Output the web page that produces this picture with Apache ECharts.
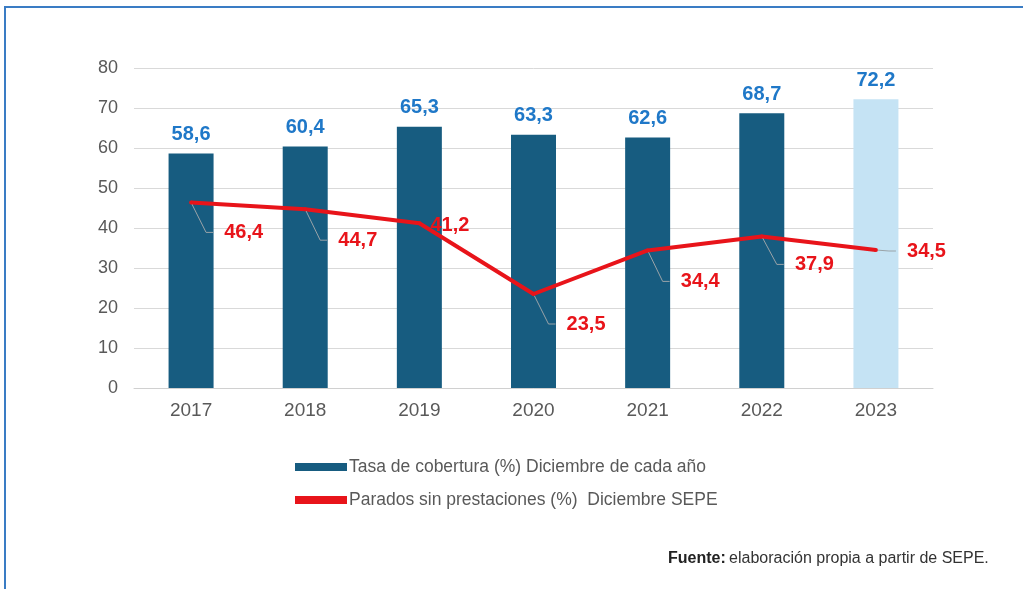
<!DOCTYPE html>
<html>
<head>
<meta charset="utf-8">
<script src="https://cdn.jsdelivr.net/npm/echarts@6/dist/echarts.min.js"></script>
<style>
  html, body { margin: 0; padding: 0; background: #fff; }
  #chart { width: 1023px; height: 589px; }
</style>
</head>
<body>
<div id="chart"></div>
<script>
// Years shown on the category axis
const years = ['2017', '2018', '2019', '2020', '2021', '2022', '2023'];
// Coverage rate (%) in December of each year
const coverage = [58.6, 60.4, 65.3, 63.3, 62.6, 68.7, 72.2];
// Unemployed without benefits (%) in December, SEPE
const noBenefits = [46.4, 44.7, 41.2, 23.5, 34.4, 37.9, 34.5];
// Value axis ticks
const yTicks = [0, 10, 20, 30, 40, 50, 60, 70, 80];

const barDark = '#175c80';
const barLight = '#c5e3f4';
const lineRed = '#e8141a';
const font = 'Liberation Sans, Arial';
const fmt = v => v.toFixed(1).replace('.', ',');

const chart = echarts.init(document.getElementById('chart'), null, { renderer: 'canvas' });

// Label offsets for the line series (last point sits to the right of its marker)
const lineLabelOffsets = [
  { dx: 20, dy: 30 }, { dx: 20, dy: 31 }, { dx: -2, dy: 2 },
  { dx: 20, dy: 30 }, { dx: 20, dy: 31 }, { dx: 20, dy: 28 }, { dx: 18, dy: 1 }
];

chart.setOption({
  animation: false,
  backgroundColor: '#ffffff',
  grid: { left: 134, right: 90, top: 68, bottom: 201, containLabel: false },
  xAxis: {
    type: 'category',
    data: years,
    axisLine: { show: true, lineStyle: { color: '#d0d0d0', width: 1 } },
    axisTick: { show: false },
    axisLabel: { color: '#595959', fontSize: 19, fontFamily: font, margin: 13 }
  },
  yAxis: {
    type: 'value',
    min: yTicks[0],
    max: yTicks[yTicks.length - 1],
    interval: yTicks[1] - yTicks[0],
    axisLine: { show: false },
    axisTick: { show: false },
    splitLine: { lineStyle: { color: '#d9d9d9', width: 1 } },
    axisLabel: { color: '#595959', fontSize: 18, fontFamily: font, margin: 16 }
  },
  legend: {
    orient: 'vertical',
    left: 290,
    top: 453,
    itemGap: 15,
    itemWidth: 52,
    itemHeight: 8,
    textStyle: { color: '#595959', fontSize: 17.5, fontFamily: font, padding: [0, 0, 0, -3] },
    data: [
      { name: 'Tasa de cobertura (%) Diciembre de cada año', icon: 'rect', itemStyle: { color: barDark } },
      { name: 'Parados sin prestaciones (%)  Diciembre SEPE', icon: 'rect', itemStyle: { color: lineRed } }
    ]
  },
  series: [
    {
      name: 'Tasa de cobertura (%) Diciembre de cada año',
      type: 'bar',
      barWidth: 45,
      data: coverage.map((v, i) => ({
        value: v,
        itemStyle: { color: i === coverage.length - 1 ? barLight : barDark }
      })),
      label: {
        show: true,
        position: 'top',
        distance: 9,
        color: '#1f78c8',
        fontWeight: 'bold',
        fontSize: 20,
        fontFamily: font,
        formatter: p => fmt(p.value)
      },
      z: 2
    },
    {
      name: 'Parados sin prestaciones (%)  Diciembre SEPE',
      type: 'line',
      data: noBenefits.map((v, i) => ({
        value: v,
        labelLine: { show: i !== 2 }
      })),
      symbol: 'circle',
      symbolSize: 4,
      showSymbol: true,
      lineStyle: { color: lineRed, width: 4 },
      itemStyle: { color: lineRed },
      label: {
        show: true,
        position: 'right',
        distance: 0,
        color: lineRed,
        fontWeight: 'bold',
        fontSize: 20,
        fontFamily: font,
        // leading spaces keep a gap between the leader line and the number
        formatter: p => '  ' + fmt(p.value)
      },
      labelLine: {
        show: true,
        smooth: false,
        length2: 7,
        lineStyle: { color: '#9aa3a8', width: 1 }
      },
      labelLayout: p => {
        const o = lineLabelOffsets[p.dataIndex];
        return { dx: o.dx, dy: o.dy };
      },
      z: 3
    }
  ],
  graphic: [
    // frame lines along the top and left edges
    { type: 'rect', left: 4, top: 6, shape: { width: 1030, height: 2 }, style: { fill: '#3a7cc4' }, silent: true },
    { type: 'rect', left: 4, top: 6, shape: { width: 2, height: 600 }, style: { fill: '#3a7cc4' }, silent: true },
    {
      type: 'text',
      left: 668,
      top: 551,
      style: {
        text: '{b|Fuente:} {n|elaboración propia a partir de SEPE.}',
        rich: {
          b: { fontWeight: 'bold', fontSize: 16, fill: '#222', fontFamily: font },
          n: { fontSize: 16, fill: '#333', fontFamily: font }
        }
      }
    }
  ]
});
</script>
</body>
</html>
